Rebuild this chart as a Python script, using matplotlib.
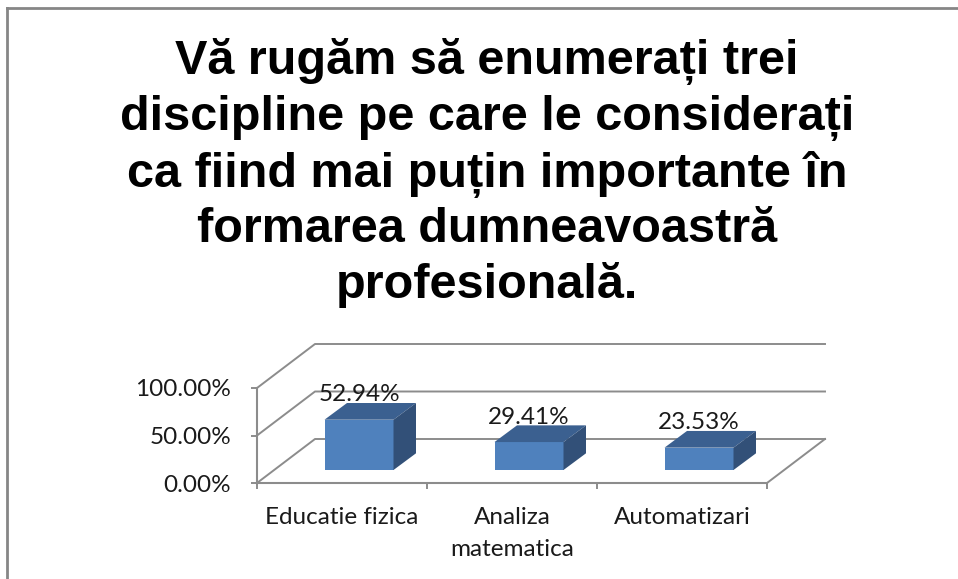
import matplotlib
matplotlib.use('Agg')
import matplotlib.pyplot as plt
from matplotlib.lines import Line2D
from matplotlib.patches import Polygon

categories = ['Educatie fizica', 'Analiza\nmatematica', 'Automatizari']
values = [52.94, 29.41, 23.53]
value_labels = ['52.94%', '29.41%', '23.53%']
y_ticks = [0, 50, 100]
y_tick_labels = ['0.00%', '50.00%', '100.00%']
title = 'Vă rugăm să enumerați trei\ndiscipline pe care le considerați\nca fiind mai puțin importante în\nformarea dumneavoastră\nprofesională.'

W, H = 958, 579
grey = '#8c8c8c'

fig = plt.figure(figsize=(W / 100, H / 100), dpi=100, facecolor='white')

# front plane of the fake 3d box, in pixels: x 257-767, y 388-483
ax = fig.add_axes([257 / W, 1 - 483 / H, 510 / W, 95 / H])
ax.set_xlim(0, 3)
ax.set_ylim(0, 100)
ax.patch.set_visible(False)
for s in ['top', 'right']:
    ax.spines[s].set_visible(False)
for s in ['left', 'bottom']:
    ax.spines[s].set_color(grey)
    ax.spines[s].set_linewidth(1.5)

# depth of the box and of the bars, in data units
box_dx, box_dy = 58 / 170, 44 / 0.95
bar_dx, bar_dy = 22.5 / 170, 16.7 / 0.95
bar_width = 69 / 170
bar_floor = 13 / 0.95
bar_shift = 17 / 170

for t in y_ticks:
    ax.plot([0, box_dx, 3 + box_dx], [t, t + box_dy, t + box_dy], color=grey, lw=1.4, clip_on=False, zorder=1)
ax.plot([3, 3 + box_dx], [0, box_dy], color=grey, lw=1.4, clip_on=False, zorder=1)

centers = [i + 0.5 + bar_shift for i in range(len(values))]
ax.bar(centers, values, width=bar_width, bottom=bar_floor, color='#4f81bd', zorder=3, clip_on=False)
for c, v, lab in zip(centers, values, value_labels):
    left = c - bar_width / 2
    right = c + bar_width / 2
    top = bar_floor + v
    ax.add_patch(Polygon([(left, top), (right, top), (right + bar_dx, top + bar_dy), (left + bar_dx, top + bar_dy)],
                         closed=True, color='#3b6090', lw=0, zorder=3, clip_on=False))
    ax.add_patch(Polygon([(right, bar_floor), (right + bar_dx, bar_floor + bar_dy), (right + bar_dx, top + bar_dy), (right, top)],
                         closed=True, color='#325078', lw=0, zorder=3, clip_on=False))
    ax.annotate(lab, (c, top), xytext=(0, 25), textcoords='offset pixels', ha='center', va='center',
                fontsize=17.5, family='Lato', color='#1a1a1a', zorder=4, annotation_clip=False)

ax.set_yticks(y_ticks)
ax.set_yticklabels(y_tick_labels, fontsize=17.5, family='Lato', color='#1a1a1a')
ax.set_xticks([0, 1, 2, 3])
ax.set_xticklabels([])
ax.set_xticks([0.5, 1.5, 2.5], minor=True)
ax.set_xticklabels(categories, minor=True, fontsize=17.5, family='Lato', color='#1a1a1a', linespacing=1.65)
ax.tick_params(axis='both', which='major', color=grey, width=1.4, length=4.5)
ax.tick_params(axis='y', pad=14)
ax.tick_params(axis='x', which='minor', length=0, pad=17.5)

fig.text(487 / W, 1 - 173 / H, title, ha='center', va='center', fontsize=35, fontweight='bold',
         family='Liberation Sans', color='black', linespacing=1.27)

# chart frame, only top and left show in the crop
fig.add_artist(Line2D([7 / W, 7 / W], [0, 1 - 8 / H], color='#868686', lw=2))
fig.add_artist(Line2D([7 / W, 1], [1 - 8 / H, 1 - 8 / H], color='#868686', lw=2))

fig.savefig('out.png', dpi=100)
